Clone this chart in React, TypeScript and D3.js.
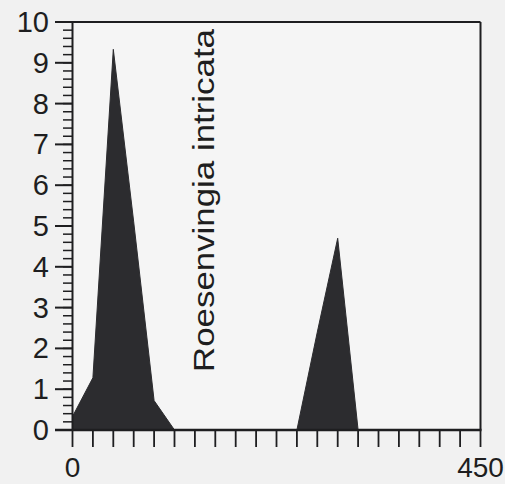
import React from "react";
import * as d3 from "d3";

const depths = [0, 22.5, 45, 67.5, 90, 112.5, 135, 157.5, 180, 202.5, 225, 247.5, 270, 292.5, 315, 337.5, 360, 382.5, 405, 427.5, 450];
const abundance = [0.33, 1.28, 9.33, 5.1, 0.72, 0, 0, 0, 0, 0, 0, 0, 2.4, 4.7, 0, 0, 0, 0, 0, 0, 0];
const yMajorTicks = [0, 1, 2, 3, 4, 5, 6, 7, 8, 9, 10];
const xTickLabels = [0, 450];
const speciesLabel = "Roesenvingia intricata";

const W = 505;
const H = 484;
const left = 72.5;
const right = 480.5;
const top = 22;
const bottom = 430;

export default function App() {
  const x = d3.scaleLinear().domain([0, 450]).range([left, right]);
  const y = d3.scaleLinear().domain([0, 10]).range([bottom, top]);
  const area = d3
    .area<number>()
    .x((_, i) => x(depths[i]))
    .y0(y(0))
    .y1((d) => y(d));
  const minor = d3.range(0, 10.0001, 0.2);
  const xTicks = depths;
  const font = "Liberation Sans, Arial, Helvetica, sans-serif";
  const ink = "#1e1e20";

  return (
    <svg
      width={W}
      height={H}
      style={{ position: "absolute", left: 0, top: 0, background: "#f1f1f1" }}
    >
      <rect x={left} y={top} width={right - left} height={bottom - top} fill="#f5f5f5" />
      <path d={area(abundance) || ""} fill="#2c2c2f" stroke="#2c2c2f" strokeWidth={1} strokeLinejoin="round" />
      {/* frame */}
      <line x1={left} x2={right} y1={top} y2={top} stroke={ink} strokeWidth={2} />
      <line x1={right} x2={right} y1={top} y2={bottom} stroke={ink} strokeWidth={2} />
      <line x1={left} x2={left} y1={top - 1} y2={bottom + 1} stroke={ink} strokeWidth={2} />
      <line x1={55} x2={right + 1} y1={bottom} y2={bottom} stroke={ink} strokeWidth={2.5} />
      {/* y minor ticks */}
      {minor.map((v, i) => (
        <line key={"m" + i} x1={63} x2={left} y1={y(v)} y2={y(v)} stroke={ink} strokeWidth={1.5} />
      ))}
      {yMajorTicks.map((v) => (
        <g key={"y" + v}>
          <line x1={55} x2={left} y1={y(v)} y2={y(v)} stroke={ink} strokeWidth={2} />
          <text
            x={49}
            y={y(v)}
            textAnchor="end"
            dominantBaseline="central"
            fontFamily={font}
            fontSize={29}
            fill={ink}
          >
            {v}
          </text>
        </g>
      ))}
      {xTicks.map((v, i) => (
        <line key={"x" + i} x1={x(v)} x2={x(v)} y1={bottom} y2={bottom + 17} stroke={ink} strokeWidth={1.8} />
      ))}
      {xTickLabels.map((v) => (
        <text
          key={"xl" + v}
          x={x(v)}
          y={477}
          textAnchor="middle"
          fontFamily={font}
          fontSize={28}
          fill={ink}
        >
          {v}
        </text>
      ))}
      <text
        transform={`translate(214,${(29 + 372) / 2}) rotate(-90)`}
        textAnchor="middle"
        fontFamily={font}
        fontSize={30}
        textLength={343}
        lengthAdjust="spacingAndGlyphs"
        fill={ink}
      >
        {speciesLabel}
      </text>
    </svg>
  );
}
